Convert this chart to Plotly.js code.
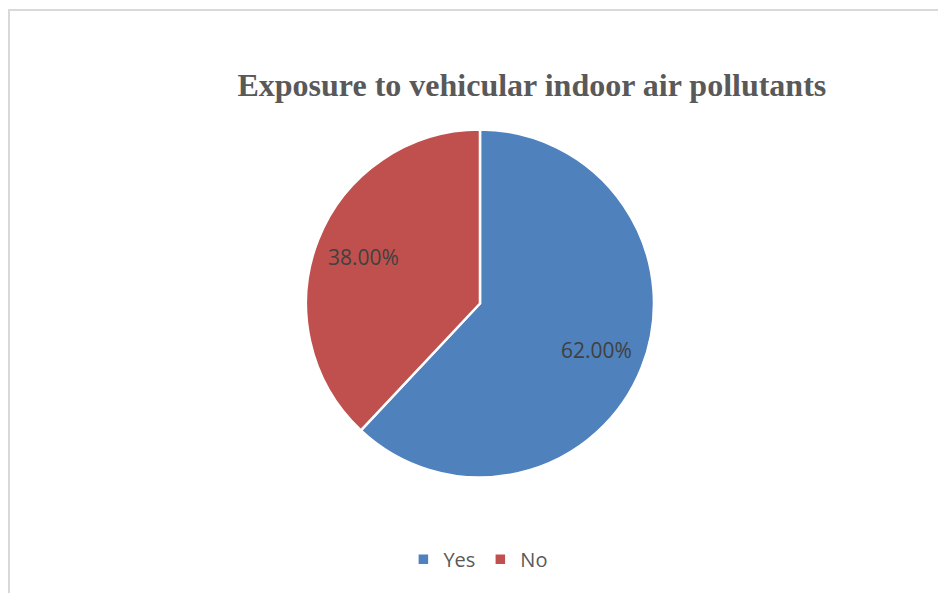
<!DOCTYPE html>
<html>
<head>
<meta charset="utf-8">
<script src="https://cdn.plot.ly/plotly-3.0.1.min.js"></script>
<style>
  html, body { margin: 0; padding: 0; background: #ffffff; overflow: hidden; }
  #wrap { position: relative; width: 938px; height: 593px; }
  #chart { position: absolute; left: 0; top: 0; width: 938px; height: 593px; }
  #frame {
    position: absolute; left: 8px; top: 9px; width: 1000px; height: 1000px;
    border: 2px solid #d9d9d9; box-sizing: border-box; pointer-events: none;
  }
</style>
</head>
<body>
<div id="wrap">
  <div id="chart"></div>
  <div id="frame"></div>
</div>
<script>
// Survey answers on exposure (percent of respondents)
const categories = ["Yes", "No"];
const shares = [62.0, 38.0];
const sliceColors = ["#4f81bd", "#c0504d"];
const chartTitle = "Exposure to vehicular indoor air pollutants";

const W = 938, H = 593;
const pieDomain = { x: [0.3262, 0.6972], y: [0.1948, 0.7816] };

const trace = {
  type: "pie",
  labels: categories,
  values: shares,
  sort: false,
  direction: "clockwise",
  rotation: 0,
  marker: { colors: sliceColors, line: { color: "#ffffff", width: 2.5 } },
  textinfo: "none",
  hoverinfo: "label+percent",
  domain: pieDomain
};

// Data labels: placed along each slice's mid-angle, about 72% of the radius out
const cxPaper = (pieDomain.x[0] + pieDomain.x[1]) / 2;
const cyPaper = (pieDomain.y[0] + pieDomain.y[1]) / 2;
const radiusPx = Math.min((pieDomain.x[1] - pieDomain.x[0]) * W, (pieDomain.y[1] - pieDomain.y[0]) * H) / 2;
const total = shares.reduce((a, b) => a + b, 0);
let acc = 0;
const labelNotes = shares.map(v => {
  const mid = (acc + v / 2) / total * 2 * Math.PI; // clockwise from 12 o'clock
  acc += v;
  const r = 0.72 * radiusPx;
  return {
    x: cxPaper + r * Math.sin(mid) / W,
    y: cyPaper + r * Math.cos(mid) / H,
    xref: "paper", yref: "paper",
    xanchor: "center", yanchor: "middle",
    text: v.toFixed(2) + "%",
    showarrow: false,
    font: { family: "Open Sans, sans-serif", size: 21, color: "#404040" }
  };
});

const layout = {
  width: W,
  height: H,
  margin: { l: 0, r: 0, t: 0, b: 0 },
  paper_bgcolor: "#ffffff",
  showlegend: true,
  annotations: labelNotes,
  title: {
    text: "<b>" + chartTitle + "</b>",
    font: { family: "Liberation Serif, Times New Roman, serif", size: 32, color: "#595959" },
    x: 0.567, xanchor: "center", xref: "paper",
    y: 0.857, yanchor: "middle", yref: "paper"
  },
  legend: {
    orientation: "h",
    x: 0.51, xanchor: "center",
    y: 0.057, yanchor: "middle",
    font: { family: "Open Sans, sans-serif", size: 20, color: "#595959" },
    itemwidth: 30
  }
};

Plotly.newPlot("chart", [trace], layout, { displayModeBar: false, staticPlot: true });
</script>
</body>
</html>
